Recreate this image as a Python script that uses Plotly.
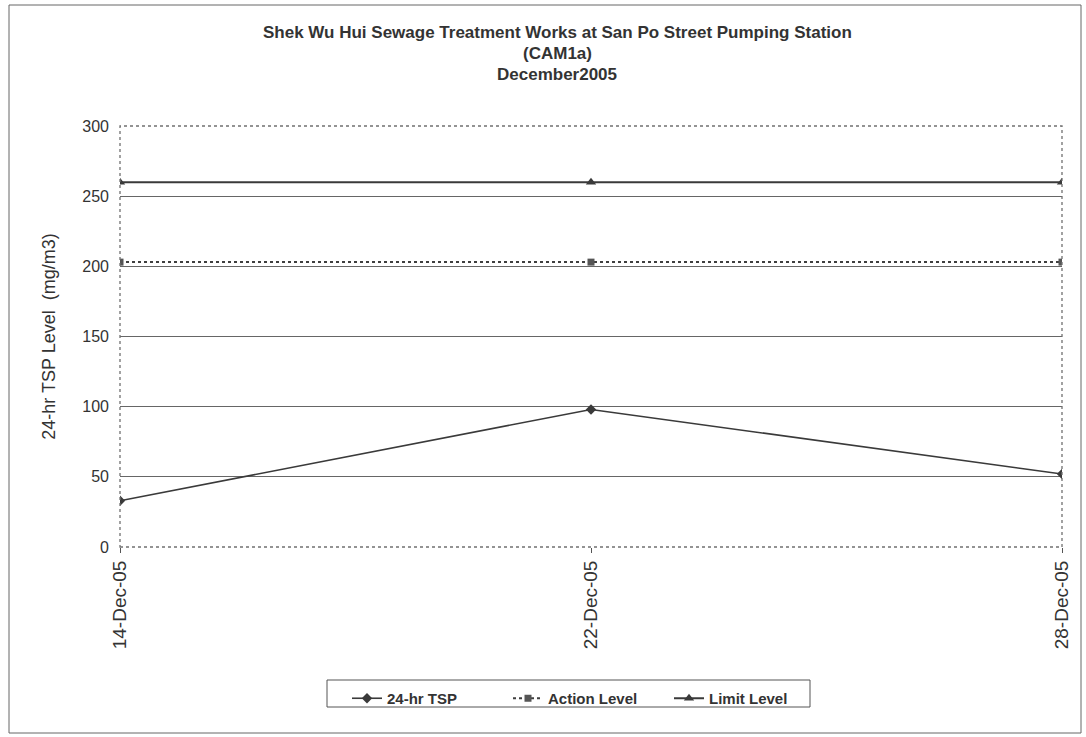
import plotly.graph_objects as go

# Sampling dates and measured / criteria levels (mg/m3)
dates = ["14-Dec-05", "22-Dec-05", "28-Dec-05"]
tsp_24hr = [33, 98, 52]
action_level = [203, 203, 203]
limit_level = [260, 260, 260]
y_ticks = [0, 50, 100, 150, 200, 250, 300]

title_lines = [
    "Shek Wu Hui Sewage Treatment Works at San Po Street Pumping Station",
    "(CAM1a)",
    "December2005",
]

font_family = "Liberation Sans, Arial, sans-serif"
ink = "#333333"

# plot-area geometry in pixels (used to place paper-referenced items)
W, H = 1086, 737
L, R, T, B = 120, 1062, 126, 547
PW, PH = R - L, B - T


def px_x(x):
    return (x - L) / PW


def px_y(y):
    return (B - y) / PH


fig = go.Figure()

fig.add_trace(go.Scatter(
    x=dates, y=tsp_24hr, name="24-hr TSP", mode="lines+markers",
    line=dict(color="#3a3a3a", width=1.6),
    marker=dict(symbol="diamond", size=8, color="#3a3a3a"),
))
fig.add_trace(go.Scatter(
    x=dates, y=action_level, name="Action Level", mode="lines+markers",
    line=dict(color="#3f3f3f", width=2, dash="dot"),
    marker=dict(symbol="square", size=7, color="#555555"),
))
fig.add_trace(go.Scatter(
    x=dates, y=limit_level, name="Limit Level", mode="lines+markers",
    line=dict(color="#3a3a3a", width=2),
    marker=dict(symbol="triangle-up", size=9, color="#3a3a3a"),
))

annotations = []
for text, yc in zip(title_lines, [33, 53, 74]):
    annotations.append(dict(
        text="<b>%s</b>" % text, xref="paper", yref="paper",
        x=px_x(557), y=px_y(yc), xanchor="center", yanchor="middle",
        showarrow=False, font=dict(size=17, family=font_family, color=ink),
    ))

fig.update_layout(
    width=W, height=H,
    margin=dict(l=L, r=W - R, t=T, b=H - B),
    paper_bgcolor="white", plot_bgcolor="white",
    font=dict(family=font_family, color=ink, size=16),
    annotations=annotations,
    showlegend=True,
    legend=dict(
        orientation="h", x=px_x(347), xanchor="left",
        y=px_y(682), yanchor="top",
        borderwidth=0, bgcolor="rgba(0,0,0,0)",
        font=dict(size=15, family=font_family, color=ink, weight="bold"),
        entrywidth=116, entrywidthmode="pixels",
        itemwidth=30,
    ),
    xaxis=dict(
        type="category", range=[0, 2], tickangle=-90,
        showgrid=False, zeroline=False,
        ticks="outside", ticklen=5, tickcolor="#555555",
        tickfont=dict(size=19, family=font_family, color=ink),
        showline=False,
    ),
    yaxis=dict(
        range=[0, 300], tickvals=y_ticks,
        showgrid=True, gridcolor="#666666", gridwidth=1,
        zeroline=False, showline=False,
        ticks="", ticklabelstandoff=10,
        tickfont=dict(size=16, family=font_family, color=ink),
        title=dict(text="24-hr TSP Level  (mg/m3)",
                   font=dict(size=18, family=font_family, color=ink), standoff=21),
    ),
    shapes=[
        # dotted plot-area frame
        dict(type="rect", xref="paper", yref="paper", x0=0, y0=0, x1=1, y1=1,
             line=dict(color="#707070", width=1.3, dash="dot"), layer="above"),
        # legend frame
        dict(type="rect", xref="paper", yref="paper",
             x0=px_x(327), x1=px_x(810), y0=px_y(707), y1=px_y(680),
             line=dict(color="#555555", width=1)),
        # outer chart border
        dict(type="rect", xref="paper", yref="paper",
             x0=px_x(9), x1=px_x(1081), y0=px_y(733), y1=px_y(5),
             line=dict(color="#666666", width=1)),
    ],
)

fig.write_html("out.html")
